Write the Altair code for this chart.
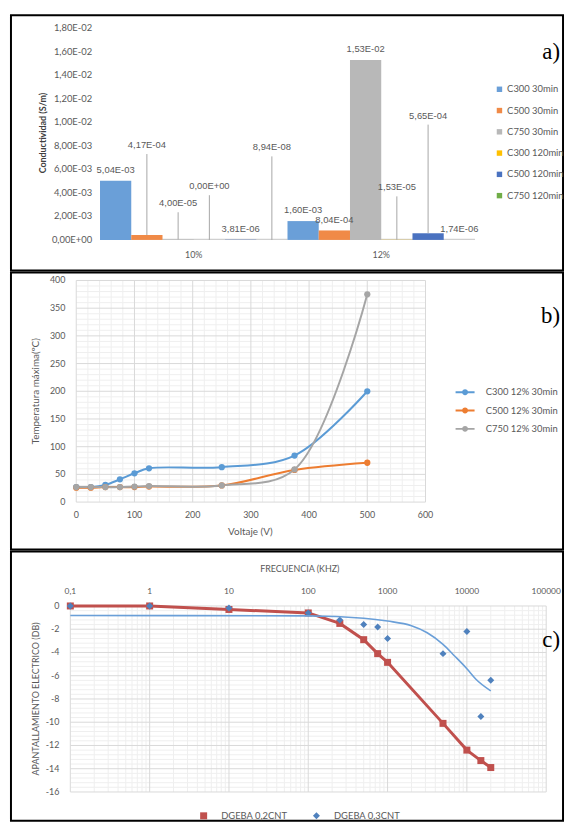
import altair as alt
import pandas as pd

FONT = "Lato"
TXT = "#595959"
W = 558
HA, HB, HC = 258, 280, 272

# ---------------- panel a) data ----------------
groups_a = ["10%", "12%"]
series_a = ["C300 30min", "C500 30min", "C750 30min", "C300 120min", "C500 120min", "C750 120min"]
cond_10 = [5.04e-3, 4.17e-4, 4.00e-5, 0.0, 3.81e-6, 8.94e-8]
cond_12 = [1.60e-3, 8.04e-4, 1.53e-2, 1.53e-5, 5.65e-4, 1.74e-6]
labels_10 = ["5,04E-03", "4,17E-04", "4,00E-05", "0,00E+00", "3,81E-06", "8,94E-08"]
labels_12 = ["1,60E-03", "8,04E-04", "1,53E-02", "1,53E-05", "5,65E-04", "1,74E-06"]
# level (S/m) where a callout label sits at the end of its leader line (None = label on the bar)
callout_10 = [None, 0.0073, 0.00235, 0.0038, None, 0.0071]
callout_12 = [None, None, None, 0.0037, 0.0098, None]
colors_a = ["#6a9fd8", "#f08a47", "#b8b8b8", "#ffc000", "#4a72c0", "#70ad47"]
yticks_a = [0, 0.002, 0.004, 0.006, 0.008, 0.010, 0.012, 0.014, 0.016, 0.018]
ylabels_a = ["0,00E+00", "2,00E-03", "4,00E-03", "6,00E-03", "8,00E-03",
             "1,00E-02", "1,20E-02", "1,40E-02", "1,60E-02", "1,80E-02"]

# ---------------- panel b) data ----------------
volt = [0, 25, 50, 75, 100, 125, 250, 375, 500]
temp_c300 = [27, 27, 31, 41, 52, 61, 63, 84, 200]
temp_c500 = [26, 26, 27, 27, 27, 28, 30, 58, 71]
temp_c750 = [27, 27, 27, 27, 28, 29, 30, 59, 375]
series_b = ["C300 12% 30min", "C500 12% 30min", "C750 12% 30min"]
colors_b = ["#5b9bd5", "#ed7d31", "#a5a5a5"]
xticks_b = [0, 100, 200, 300, 400, 500, 600]
yticks_b = [0, 50, 100, 150, 200, 250, 300, 350, 400]
xminor_b = [v for v in range(0, 601, 20) if v % 100]
yminor_b = [v for v in range(0, 401, 10) if v % 50]

# ---------------- panel c) data ----------------
freq = [0.1, 1, 10, 100, 250, 500, 750, 1000, 5000, 10000, 15000, 20000]
db_02 = [0, 0, -0.3, -0.6, -1.5, -2.9, -4.1, -4.85, -10.1, -12.4, -13.3, -13.9]
db_03 = [0, 0, -0.17, -0.6, -1.2, -1.6, -1.8, -2.8, -4.1, -2.2, -9.5, -6.4]
trend_freq = [0.1, 100, 500, 1000, 2000, 3160, 5000, 7000, 10000, 13000, 20000]
trend_db = [-0.82, -0.85, -1.05, -1.3, -1.7, -2.3, -3.3, -4.3, -5.4, -6.3, -7.3]
series_c = ["DGEBA 0,2CNT", "DGEBA 0,3CNT"]
colors_c = ["#c0504d", "#4f81bd"]
xticks_c = [0.1, 1, 10, 100, 1000, 10000, 100000]
xlabels_c = ["0,1", "1", "10", "100", "1000", "10000", "100000"]
xminor_c = [m * 10.0 ** k for k in range(-1, 5) for m in range(2, 10)]
yticks_c = [-16, -14, -12, -10, -8, -6, -4, -2, 0]
ylabels_c = ["-16", "-14", "-12", "-10", "-8", "-6", "-4", "-2", "0"]
yminor_c = [round(-16 + 0.4 * i, 2) for i in range(41) if i % 5]

MAJOR = "#d9d9d9"
MINOR = "#efefef"


def note(txt, x, y, size=9, angle=0, weight="normal", color=TXT, font=FONT, align="center"):
    return alt.Chart(pd.DataFrame({"t": [txt]})).mark_text(
        font=font, fontSize=size, angle=angle, fontWeight=weight, color=color,
        align=align, baseline="middle"
    ).encode(text="t:N", x=alt.value(x), y=alt.value(y))


def tag(txt, x, y):
    return note(txt, x, y, size=23, color="black", font="Liberation Serif", align="right")


def vgrid(vals, xs, lo, hi, color):
    d = pd.DataFrame({"v": vals, "lo": [lo] * len(vals), "hi": [hi] * len(vals)})
    return alt.Chart(d).mark_rule(color=color, strokeWidth=1).encode(
        x=alt.X("v:Q", scale=xs, axis=None), y=alt.Y("lo:Q", axis=None), y2="hi:Q")


def hgrid(vals, ys, lo, hi, color):
    d = pd.DataFrame({"v": vals, "lo": [lo] * len(vals), "hi": [hi] * len(vals)})
    return alt.Chart(d).mark_rule(color=color, strokeWidth=1).encode(
        y=alt.Y("v:Q", scale=ys, axis=None), x=alt.X("lo:Q", axis=None), x2="hi:Q")


def ylabels(vals, texts, ys, x, size=9):
    d = pd.DataFrame({"v": vals, "t": texts})
    return alt.Chart(d).mark_text(align="right", baseline="middle", fontSize=size,
                                  color=TXT, font=FONT).encode(
        y=alt.Y("v:Q", scale=ys, axis=None), x=alt.value(x), text="t:N")


def xlabels(vals, texts, xs, y, size=9, typ="Q"):
    d = pd.DataFrame({"v": vals, "t": texts})
    return alt.Chart(d).mark_text(align="center", baseline="middle", fontSize=size,
                                  color=TXT, font=FONT).encode(
        x=alt.X("v:" + typ, scale=xs, axis=None), y=alt.value(y), text="t:N")


# ================= panel a =================
rows = []
for g, vals, labs, calls in [("10%", cond_10, labels_10, callout_10),
                             ("12%", cond_12, labels_12, callout_12)]:
    for s, v, l, c in zip(series_a, vals, labs, calls):
        rows.append({"group": g, "series": s, "value": v, "label": l, "callout": c})
df_a = pd.DataFrame(rows)

xs_a = alt.Scale(domain=groups_a, range=[90, 469], paddingInner=0, paddingOuter=0)
xo_a = alt.Scale(domain=series_a, paddingInner=0, paddingOuter=0)
ys_a = alt.Scale(domain=[0, 0.018], range=[227, 13], nice=False)

baseline_a = alt.Chart(pd.DataFrame({"g": groups_a, "lo": [0, 0], "hi": [0.00009, 0.00009]})).mark_bar(
    color="#d0d0d0").encode(
    x=alt.X("g:N", scale=xs_a, axis=None), y=alt.Y("lo:Q", scale=ys_a, axis=None), y2="hi:Q")
bars = alt.Chart(df_a).mark_bar().encode(
    x=alt.X("group:N", scale=xs_a, axis=None),
    xOffset=alt.XOffset("series:N", scale=xo_a),
    y=alt.Y("value:Q", scale=ys_a, axis=None),
    color=alt.Color("series:N", scale=alt.Scale(domain=series_a, range=colors_a),
                    legend=alt.Legend(orient="none", legendX=489, legendY=70, title=None,
                                      symbolType="square", symbolSize=30, labelOffset=3,
                                      labelFontSize=9.5, labelColor=TXT, rowPadding=10.5,
                                      padding=0)),
)
enc_a = dict(x=alt.X("group:N", scale=xs_a, axis=None),
             xOffset=alt.XOffset("series:N", scale=xo_a))
leaders = alt.Chart(df_a).transform_filter("isValid(datum.callout)").mark_rule(
    color="#a6a6a6", strokeWidth=1).encode(
    y=alt.Y("value:Q", scale=ys_a, axis=None), y2="callout:Q", **enc_a)
call_txt = alt.Chart(df_a).transform_filter("isValid(datum.callout)").mark_text(
    fontSize=9.5, color=TXT, baseline="bottom", dy=-4).encode(
    y=alt.Y("callout:Q", scale=ys_a, axis=None), text="label:N", **enc_a)
bar_txt = alt.Chart(df_a).transform_filter("!isValid(datum.callout)").mark_text(
    fontSize=9.5, color=TXT, baseline="bottom", dy=-6).encode(
    y=alt.Y("value:Q", scale=ys_a, axis=None), text="label:N", **enc_a)

panel_a = alt.layer(
    baseline_a, bars, leaders, call_txt, bar_txt,
    ylabels(yticks_a, ylabels_a, ys_a, 82, 9.5),
    xlabels(groups_a, groups_a, xs_a, 242, 9, "N"),
    note("Conductividad (S/m)", 32, 119, size=9, angle=270, weight="bold", color="#404040"),
    tag("a)", 555, 37),
).properties(width=W, height=HA)

# ================= panel b =================
df_b = pd.DataFrame({
    "volt": volt * 3,
    "temp": temp_c300 + temp_c500 + temp_c750,
    "series": [series_b[0]] * len(volt) + [series_b[1]] * len(volt) + [series_b[2]] * len(volt),
})
xs_b = alt.Scale(domain=[0, 600], range=[66, 419], nice=False, zero=False)
ys_b = alt.Scale(domain=[0, 400], range=[232, 8], nice=False)

line_layers_b = [
    alt.Chart(df_b).transform_filter(alt.datum.series == s).mark_line(
        interpolate="catmull-rom", strokeWidth=2, color=c).encode(
        x=alt.X("volt:Q", scale=xs_b, axis=None), y=alt.Y("temp:Q", scale=ys_b, axis=None))
    for s, c in zip(series_b, colors_b)
]
PATH_LC = ("M-1.6,-0.16L1.6,-0.16L1.6,0.16L-1.6,0.16Z"
           "M-0.5,0A0.5,0.5,0,1,1,0.5,0A0.5,0.5,0,1,1,-0.5,0Z")
pts_b = alt.Chart(df_b).mark_circle(size=40, opacity=1).encode(
    x=alt.X("volt:Q", scale=xs_b, axis=None), y=alt.Y("temp:Q", scale=ys_b, axis=None),
    color=alt.Color("series:N", scale=alt.Scale(domain=series_b, range=colors_b),
                    legend=alt.Legend(orient="none", legendX=452, legendY=114, title=None,
                                      symbolType=PATH_LC, symbolSize=144, labelOffset=14,
                                      labelFontSize=9.5, labelColor=TXT, rowPadding=6.5,
                                      padding=0)))

panel_b = alt.layer(
    vgrid(xminor_b, xs_b, 0, 400, MINOR), hgrid(yminor_b, ys_b, 0, 600, MINOR),
    vgrid(xticks_b, xs_b, 0, 400, MAJOR), hgrid(yticks_b, ys_b, 0, 600, MAJOR),
    *line_layers_b, pts_b,
    ylabels(yticks_b, [str(v) for v in yticks_b], ys_b, 55, 9),
    xlabels(xticks_b, [str(v) for v in xticks_b], xs_b, 245, 9),
    note("Voltaje (V)", 242, 262, size=10),
    note("Temperatura máxima(ºC)", 25, 120, size=10, angle=270),
    tag("b)", 555, 44),
).properties(width=W, height=HB)

# ================= panel c =================
xs_c = alt.Scale(type="log", domain=[0.1, 100000], range=[60, 541], nice=False)
ys_c = alt.Scale(domain=[-16, 0], range=[243, 55], nice=False, zero=False)

df_c = pd.DataFrame({
    "f": freq + freq,
    "db": db_02 + db_03,
    "series": [series_c[0]] * len(freq) + [series_c[1]] * len(freq),
})
df_trend = pd.DataFrame({"f": trend_freq, "db": trend_db})
enc_c = dict(x=alt.X("f:Q", scale=xs_c, axis=None), y=alt.Y("db:Q", scale=ys_c, axis=None))

red_line = alt.Chart(df_c).transform_filter(
    alt.datum.series == series_c[0]).mark_line(color=colors_c[0], strokeWidth=3).encode(**enc_c)
leg_c = dict(orient="none", legendX=190, legendY=262, title=None, direction="horizontal",
             symbolSize=50, labelOffset=13, labelFontSize=9.5, labelColor=TXT, columnPadding=24,
             padding=0)
pts_c = alt.Chart(df_c).mark_point(filled=True, size=50, opacity=1).encode(
    color=alt.Color("series:N", scale=alt.Scale(domain=series_c, range=colors_c),
                    legend=alt.Legend(**leg_c)),
    shape=alt.Shape("series:N", scale=alt.Scale(domain=series_c, range=["square", "diamond"]),
                    legend=alt.Legend(**leg_c)),
    **enc_c)
trend = alt.Chart(df_trend).mark_line(color="#6a9fd8", strokeWidth=1.6,
                                      interpolate="monotone").encode(**enc_c)

panel_c = alt.layer(
    vgrid(xminor_c, xs_c, -16, 0, MINOR), hgrid(yminor_c, ys_c, 0.1, 100000, MINOR),
    vgrid(xticks_c, xs_c, -16, 0, MAJOR), hgrid(yticks_c, ys_c, 0.1, 100000, MAJOR),
    red_line, pts_c, trend,
    ylabels(yticks_c, ylabels_c, ys_c, 49, 9),
    xlabels(xticks_c, xlabels_c, xs_c, 40, 8.5),
    note("FRECUENCIA (KHZ)", 292, 18, size=9),
    note("APANTALLAMIENTO ELECTRICO (DB)", 25, 149, size=9, angle=270),
    tag("c)", 555, 89),
).properties(width=W, height=HC)

chart = alt.vconcat(panel_a, panel_b, panel_c, spacing=0).resolve_scale(
    color="independent", shape="independent"
).resolve_legend(
    color="independent", shape="independent"
).configure_view(
    stroke="black", strokeWidth=2
).configure_legend(labelFont=FONT).properties(
    padding={"left": 2, "top": 2, "right": 0, "bottom": 0})

chart.save("out.html", embed_options={"renderer": "svg", "actions": False})
